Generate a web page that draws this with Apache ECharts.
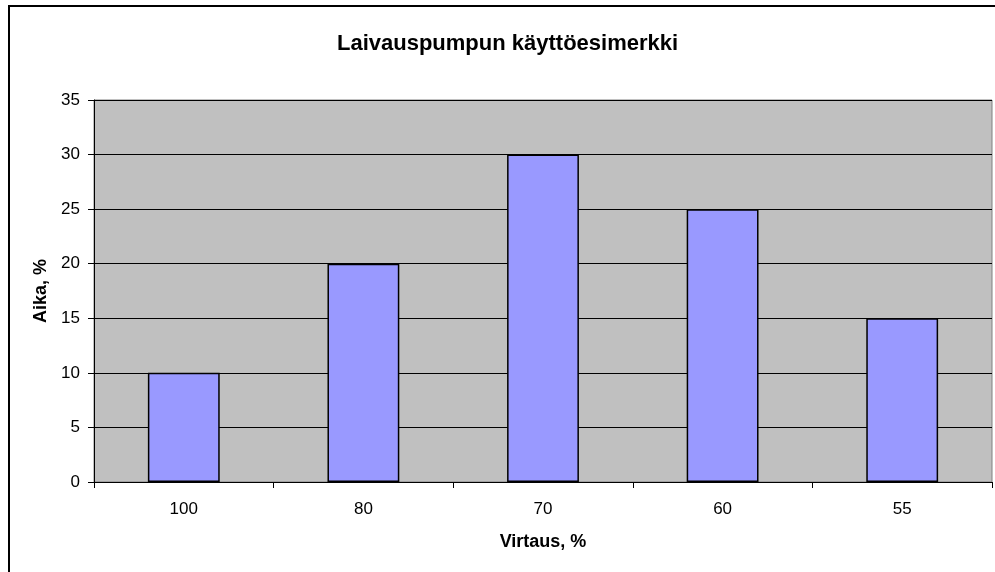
<!DOCTYPE html>
<html>
<head>
<meta charset="utf-8">
<script src="https://cdn.jsdelivr.net/npm/echarts@6/dist/echarts.min.js"></script>
<style>
  html, body { margin: 0; padding: 0; background: #fff; }
  #main { width: 995px; height: 572px; }
</style>
</head>
<body>
<div id="main"></div>
<script>
const categories = ['100', '80', '70', '60', '55']
const values = [10, 20, 30, 25, 15]
const yTicks = { min: 0, max: 35, interval: 5 }

const font = '"Liberation Sans", Arial, sans-serif'
const chart = echarts.init(document.getElementById('main'))

chart.setOption({
  animation: false,
  backgroundColor: '#fff',
  title: {
    text: 'Laivauspumpun käyttöesimerkki',
    left: 332,
    top: 28,
    textStyle: { fontFamily: font, fontSize: 22, fontWeight: 'bold', color: '#000' }
  },
  graphic: [{
    type: 'rect',
    shape: { x: 9, y: 6, width: 1200, height: 800 },
    style: { fill: 'none', stroke: '#000', lineWidth: 2 },
    silent: true
  }],
  grid: {
    left: 94, top: 100, right: 3, bottom: 90,
    show: true,
    backgroundColor: '#C0C0C0',
    borderColor: '#808080',
    borderWidth: 1
  },
  xAxis: {
    type: 'category',
    data: categories,
    name: 'Virtaus, %',
    nameLocation: 'middle',
    nameGap: 51,
    nameTextStyle: { fontFamily: font, fontSize: 18, fontWeight: 'bold', color: '#000' },
    axisLine: { lineStyle: { color: '#000', width: 1 } },
    axisTick: { show: true, length: 6, lineStyle: { color: '#000' } },
    axisLabel: { fontFamily: font, fontSize: 17, color: '#000', margin: 19 },
    splitLine: { show: false }
  },
  yAxis: {
    type: 'value',
    min: yTicks.min,
    max: yTicks.max,
    interval: yTicks.interval,
    name: 'Aika, %',
    nameLocation: 'middle',
    nameGap: 43,
    nameRotate: 90,
    nameTextStyle: { fontFamily: font, fontSize: 18, fontWeight: 'bold', color: '#000' },
    axisLine: { show: true, lineStyle: { color: '#000', width: 1 } },
    axisTick: { show: true, length: 6, lineStyle: { color: '#000' } },
    axisLabel: { fontFamily: font, fontSize: 17, color: '#000', margin: 14 },
    splitLine: { show: true, lineStyle: { color: '#000', width: 1 } }
  },
  series: [{
    type: 'bar',
    data: values,
    barWidth: '40%',
    itemStyle: { color: '#9999FF', borderColor: '#000', borderWidth: 1.5 }
  }]
})
</script>
</body>
</html>
